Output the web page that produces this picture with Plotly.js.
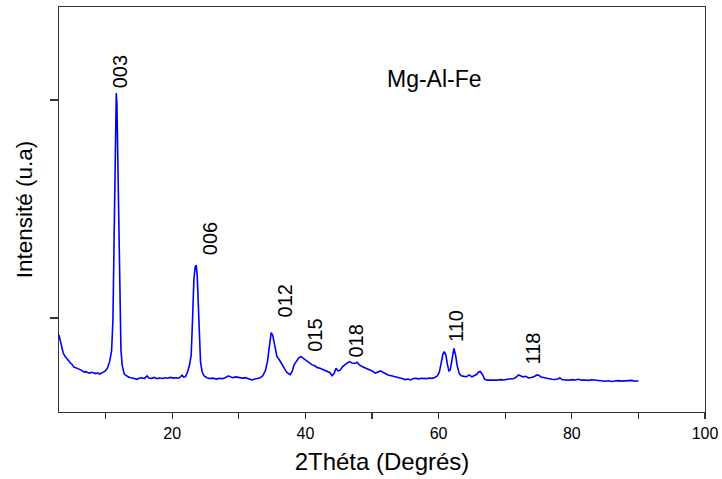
<!DOCTYPE html>
<html>
<head>
<meta charset="utf-8">
<script src="https://cdn.plot.ly/plotly-3.0.1.min.js"></script>
<style>html,body{margin:0;padding:0;background:#fff;}#chart{width:722px;height:479px;}</style>
</head>
<body>
<div id="chart"></div>
<script>
// 2θ (degrees) and intensity (arbitrary units)
const twoTheta = [3.0,3.3,3.63,3.9,4.2,4.45,4.72,5.0,5.22,5.5,5.8,6.1,6.4,6.72,7.0,7.3,7.6,7.9,8.22,8.5,8.8,9.1,9.4,9.7,9.97,10.3,10.6,10.9,11.1,11.25,11.4,11.5,11.6,11.7,11.8,11.95,12.1,12.3,12.5,12.8,13.2,13.6,14.0,14.4,14.72,15.0,15.4,15.8,16.22,16.5,16.9,17.3,17.72,18.1,18.5,18.9,19.3,19.7,20.21,20.6,21.0,21.47,21.7,22.0,22.3,22.6,22.85,23.05,23.25,23.45,23.6,23.75,23.9,24.05,24.25,24.5,24.8,25.22,25.6,26.0,26.4,26.72,27.1,27.5,27.9,28.46,28.8,29.1,29.5,29.9,30.21,30.6,31.0,31.5,31.97,32.3,32.7,33.21,33.6,34.0,34.3,34.6,34.86,35.1,35.4,35.71,36.1,36.5,36.9,37.21,37.71,38.0,38.3,38.71,39.0,39.35,39.7,40.0,40.3,40.6,41.0,41.4,41.8,42.2,42.6,43.0,43.3,43.7,44.0,44.3,44.6,44.9,45.2,45.6,46.0,46.3,46.6,47.0,47.4,47.8,48.1,48.5,48.9,49.3,49.7,50.1,50.5,50.9,51.3,51.7,52.1,52.5,52.9,53.3,53.7,54.1,54.5,55.0,55.4,55.8,56.2,56.6,57.0,57.4,57.8,58.2,58.6,59.0,59.4,59.8,60.1,60.4,60.65,60.85,61.1,61.3,61.55,61.75,61.95,62.15,62.3,62.55,62.8,63.1,63.4,63.8,64.2,64.6,65.0,65.3,65.7,66.0,66.25,66.6,66.9,67.3,67.8,68.3,68.8,69.3,69.8,70.3,70.8,71.3,71.7,72.0,72.3,72.7,73.1,73.5,73.9,74.3,74.8,75.1,75.4,75.8,76.2,76.6,77.0,77.5,78.0,78.2,78.5,79.0,79.5,80.0,80.5,81.0,81.5,82.0,82.5,83.0,83.5,84.0,84.5,85.0,85.5,86.0,86.5,87.0,87.5,88.0,88.5,89.0,89.5,90.0];
const intensity = [844,752,679,650,624,610,587,572,550,545,538,532,520,505,508,500,495,502,495,490,497,486,495,505,514,545,600,700,982,1624,2450,2908,3064,2954,2541,1716,1073,706,560,486,468,455,450,445,438,447,452,445,470,450,447,455,444,450,446,452,448,455,449,452,448,476,458,462,505,569,661,982,1349,1468,1486,1394,1165,798,596,505,468,452,446,449,441,440,447,444,450,470,458,452,460,455,451,449,453,445,432,438,446,453,470,520,600,750,867,840,730,650,615,575,530,500,480,510,570,615,635,645,630,610,598,590,570,562,545,540,530,520,510,498,470,490,540,515,520,555,575,590,600,588,585,592,570,555,545,530,520,512,495,505,515,500,485,475,470,465,458,450,445,435,440,432,445,446,442,448,446,444,450,447,455,470,500,580,670,691,660,580,515,525,610,705,722,660,560,490,470,465,462,478,460,470,482,505,510,480,440,430,428,432,430,435,432,438,440,445,460,478,470,460,466,450,455,462,478,472,458,452,448,440,438,436,442,452,436,432,430,435,432,438,430,432,428,434,431,428,425,420,424,418,422,426,421,425,423,428,420,424];

// Peak labels (Miller indices) and where they sit
const peakLabels = ['003','006','012','015','018','110','118'];
const labelTheta = [12.22,25.7,37.0,41.4,47.6,62.6,74.1];
const labelIntensity = [3257,1725,1156,844,784,927,716];

const sampleName = 'Mg-Al-Fe';
const xTickVals = [10,20,30,40,50,60,70,80,90,100];
const xTickText = ['','20','','40','','60','','80','','100'];
const yTickVals = [1000,3000];

const FONT = '"Liberation Sans", Arial, sans-serif';

const annotations = peakLabels.map((t,i)=>({
  x: labelTheta[i], y: labelIntensity[i], xref:'x', yref:'y',
  text: t, showarrow:false, textangle:-90,
  xanchor:'center', yanchor:'middle',
  font:{family:FONT, size:20, color:'#000'}
}));
annotations.push({
  x: 59.4, y: 3193, xref:'x', yref:'y', text: sampleName, showarrow:false,
  xanchor:'center', yanchor:'middle', font:{family:FONT, size:23, color:'#000'}
});

const trace = {
  x: twoTheta, y: intensity, type:'scatter', mode:'lines',
  line:{color:'#0000ff', width:1.6}, hoverinfo:'skip'
};

const layout = {
  width:722, height:479,
  margin:{l:58.5, r:16.5, t:7, b:67, pad:0},
  paper_bgcolor:'#fff', plot_bgcolor:'#fff',
  showlegend:false,
  font:{family:FONT, color:'#000'},
  xaxis:{
    range:[3,100], showgrid:false, zeroline:false,
    showline:true, linecolor:'#333', linewidth:1.3, mirror:true,
    ticks:'outside', ticklen:6, tickwidth:1.3, tickcolor:'#333',
    tickmode:'array', tickvals:xTickVals, ticktext:xTickText,
    tickfont:{family:FONT, size:16, color:'#000'},
    title:{text:'2Théta (Degrés)', font:{family:FONT, size:24, color:'#000'}, standoff:12}
  },
  yaxis:{
    range:[138,3853], showgrid:false, zeroline:false,
    showline:true, linecolor:'#333', linewidth:1.3, mirror:true,
    ticks:'outside', ticklen:8, tickwidth:1.3, tickcolor:'#333',
    tickmode:'array', tickvals:yTickVals, showticklabels:false,
    title:{text:'Intensité (u.a)', font:{family:FONT, size:22.5, color:'#000'}, standoff:10}
  },
  annotations: annotations
};

Plotly.newPlot('chart', [trace], layout, {staticPlot:true, displayModeBar:false});
</script>
</body>
</html>
